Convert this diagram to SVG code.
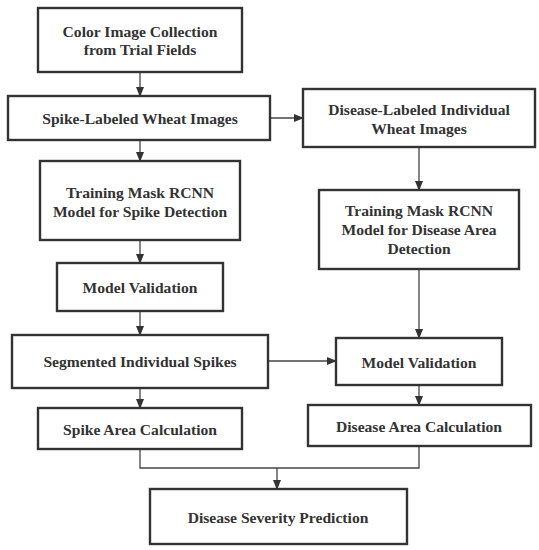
<svg xmlns="http://www.w3.org/2000/svg" width="539" height="550" viewBox="0 0 539 550">
<style>
.box{fill:#fff;stroke:#333;stroke-width:2.4}
.t{font-family:"Liberation Serif",serif;font-weight:bold;font-size:15.6px;fill:#333;text-anchor:middle}
.c{fill:none;stroke:#444;stroke-width:1.3}
</style>
<defs>
<marker id="ah" markerWidth="10" markerHeight="8" refX="9" refY="4" orient="auto" markerUnits="userSpaceOnUse">
<path d="M0,0 L10,4 L0,8 Z" fill="#333"/>
</marker>
</defs>
<rect width="539" height="550" fill="#fff"/>
<g id="connectors">
<line class="c" x1="140" y1="72" x2="140" y2="96" marker-end="url(#ah)"/>
<line class="c" x1="140" y1="140" x2="140" y2="161" marker-end="url(#ah)"/>
<line class="c" x1="140" y1="240" x2="140" y2="263" marker-end="url(#ah)"/>
<line class="c" x1="140" y1="311" x2="140" y2="335" marker-end="url(#ah)"/>
<line class="c" x1="140" y1="388" x2="140" y2="408" marker-end="url(#ah)"/>
<line class="c" x1="270" y1="118" x2="303" y2="118" marker-end="url(#ah)"/>
<line class="c" x1="419" y1="147" x2="419" y2="190" marker-end="url(#ah)"/>
<line class="c" x1="419" y1="269" x2="419" y2="338" marker-end="url(#ah)"/>
<line class="c" x1="268" y1="361" x2="336" y2="361" marker-end="url(#ah)"/>
<line class="c" x1="419" y1="385" x2="419" y2="405" marker-end="url(#ah)"/>
<polyline class="c" points="140,449 140,468 419,468 419,446"/>
<line class="c" x1="277" y1="468" x2="277" y2="489" marker-end="url(#ah)"/>
</g>
<g id="n1"><rect class="box" x="38" y="8" width="204" height="64"/><text class="t" x="140" y="37">Color Image Collection</text><text class="t" x="140" y="55">from Trial Fields</text></g>
<g id="n2"><rect class="box" x="8" y="96" width="262" height="44"/><text class="t" x="140" y="124">Spike-Labeled Wheat Images</text></g>
<g id="n3"><rect class="box" x="40" y="161" width="200" height="79"/><text class="t" x="140" y="198">Training Mask RCNN</text><text class="t" x="140" y="217">Model for Spike Detection</text></g>
<g id="n4"><rect class="box" x="57" y="263" width="166" height="48"/><text class="t" x="140" y="293">Model Validation</text></g>
<g id="n5"><rect class="box" x="12" y="335" width="256" height="53"/><text class="t" x="140" y="367">Segmented Individual Spikes</text></g>
<g id="n6"><rect class="box" x="38" y="408" width="204" height="41"/><text class="t" x="140" y="435">Spike Area Calculation</text></g>
<g id="n7"><rect class="box" x="150" y="489" width="257" height="55"/><text class="t" x="278" y="523">Disease Severity Prediction</text></g>
<g id="n8"><rect class="box" x="303" y="89" width="232" height="58"/><text class="t" x="419" y="115">Disease-Labeled Individual</text><text class="t" x="419" y="134">Wheat Images</text></g>
<g id="n9"><rect class="box" x="319" y="190" width="200" height="79"/><text class="t" x="419" y="216">Training Mask RCNN</text><text class="t" x="419" y="235">Model for Disease Area</text><text class="t" x="419" y="254">Detection</text></g>
<g id="n10"><rect class="box" x="336" y="338" width="166" height="47"/><text class="t" x="419" y="368">Model Validation</text></g>
<g id="n11"><rect class="box" x="308" y="405" width="223" height="41"/><text class="t" x="419" y="432">Disease Area Calculation</text></g>
</svg>
